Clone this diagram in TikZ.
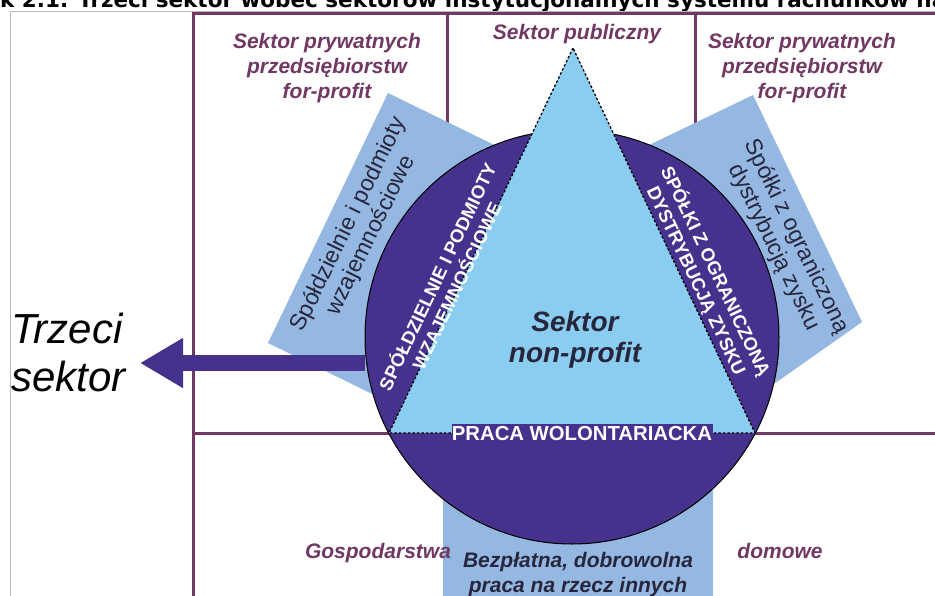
\documentclass[tikz,border=0pt]{standalone}
\usepackage{fontspec}
\setmainfont{Liberation Sans}
\newfontfamily\titlefont{DejaVu Sans}
\usetikzlibrary{arrows.meta,positioning}
\definecolor{bordo}{RGB}{112,56,98}
\definecolor{fiolet}{RGB}{70,50,140}
\definecolor{blekit}{RGB}{138,205,240}
\definecolor{niebieski}{RGB}{148,184,226}
\definecolor{ciemny}{RGB}{40,38,60}

\begin{document}
\begin{tikzpicture}[x=1pt,y=-1pt]
	\tikzset{sektor/.style={font=\fontsize{21}{25}\selectfont\bfseries\itshape,text=bordo,align=center,inner sep=0}}
	\tikzset{ramka/.style={draw=bordo,line width=3pt}}
	\tikzset{pas/.style={fill=niebieski}}
	\tikzset{pasnapis/.style={font=\fontsize{23}{25}\selectfont,text=ciemny,align=center,inner sep=0}}
	\tikzset{wcisk/.style={font=\fontsize{18.5}{21.5}\selectfont\bfseries,text=white,align=center,inner sep=0}}
	\useasboundingbox (0,0) rectangle (935,595);
	\clip (0,0) rectangle (935,595);
	\fill[white] (0,0) rectangle (935,595);
	% tytul, uciety u gory
	\node[anchor=base west,inner sep=0,font=\titlefont\fontsize{21.5}{23}\selectfont\bfseries] (tytul) at (0,7) {\llap{Rysune}k 2.1. Trzeci sektor wobec sektorów instytucjonalnych systemu rachunków narodowych};
	\draw[gray!55,line width=0.8pt] (10,620) |- (960,11);
	% ramki sektorow
	\draw[ramka] (193,620) |- (960,13);
	\draw[ramka] (447,13) -- (447,200);
	\draw[ramka] (695,13) -- (695,200);
	\draw[ramka] (193,433) -- (960,433);
	% pasy
	\fill[pas] (268,343) -- (388,93) -- (523,159) -- (403,409) -- cycle;
	\fill[pas] (753,95) -- (862,322) -- (700,436) -- (620,159) -- cycle;
	\fill[pas] (443,480) rectangle (713,620);
	\node[circle,fill=fiolet,draw=black,line width=1pt,minimum size=414pt,inner sep=0] (kolo) at (572,337) {};
	\coordinate (grot) at (140,363);
	\draw[fiolet,line width=16pt,-{Triangle[length=43pt,width=47pt]}] (kolo.west |- grot) -- (grot);
	% trojkat
	\coordinate (szczyt) at (573,48);
	\coordinate (lewy) at (389,433);
	\coordinate (prawy) at (755,433);
	\draw[fill=blekit,line width=1.3pt,dash pattern=on 2.5pt off 2pt] (szczyt) -- (lewy) -- (prawy) -- cycle;
	% napisy
	\node[sektor,anchor=base] (publ) at (577,39) {Sektor publiczny};
	\node[sektor] (prywL) at (327,68) {Sektor prywatnych\\przedsiębiorstw\\for-profit};
	\node[sektor] (prywP) at (802,68) {Sektor prywatnych\\przedsiębiorstw\\for-profit};
	\node[sektor,anchor=base] (gosp) at (378,558) {Gospodarstwa};
	\node[sektor,anchor=base] (dom) at (780,558) {domowe};
	\node[font=\fontsize{21}{25}\selectfont\bfseries\itshape,text=ciemny,align=center,inner sep=0] (praca) at (578,575) {Bezpłatna, dobrowolna\\praca na rzecz innych};
	\node[font=\fontsize{28}{31}\selectfont\bfseries\itshape,text=ciemny,align=center,inner sep=0] (nonprofit) at (575,340) {Sektor\\non-profit};
	\node[font=\fontsize{42}{48}\selectfont\itshape,anchor=west,align=left,inner sep=0] (trzeci) at (11,352) {Trzeci\\sektor};
	\node[wcisk,rotate=64.5] (spoldz) at (446,281) {SPÓŁDZIELNIE I PODMIOTY\\WZAJEMNOŚCIOWE};
	\node[wcisk,rotate=-64.5] (spolki) at (706,276) {SPÓŁKI Z OGRANICZONĄ\\DYSTRYBUCJĄ ZYSKU};
	\node[pasnapis,rotate=64] (lewypas) at (360,230) {Spółdzielnie i podmioty\\wzajemnościowe};
	\node[pasnapis,rotate=-64] (prawypas) at (785,242) {Spółki z ograniczoną\\dystrybucją zysku};
	\node[fill=fiolet,text=white,font=\fontsize{20.3}{21}\selectfont\bfseries,minimum width=261pt,minimum height=21pt,inner sep=0] (wolont) at (582,434) {PRACA WOLONTARIACKA};
\end{tikzpicture}
\end{document}
